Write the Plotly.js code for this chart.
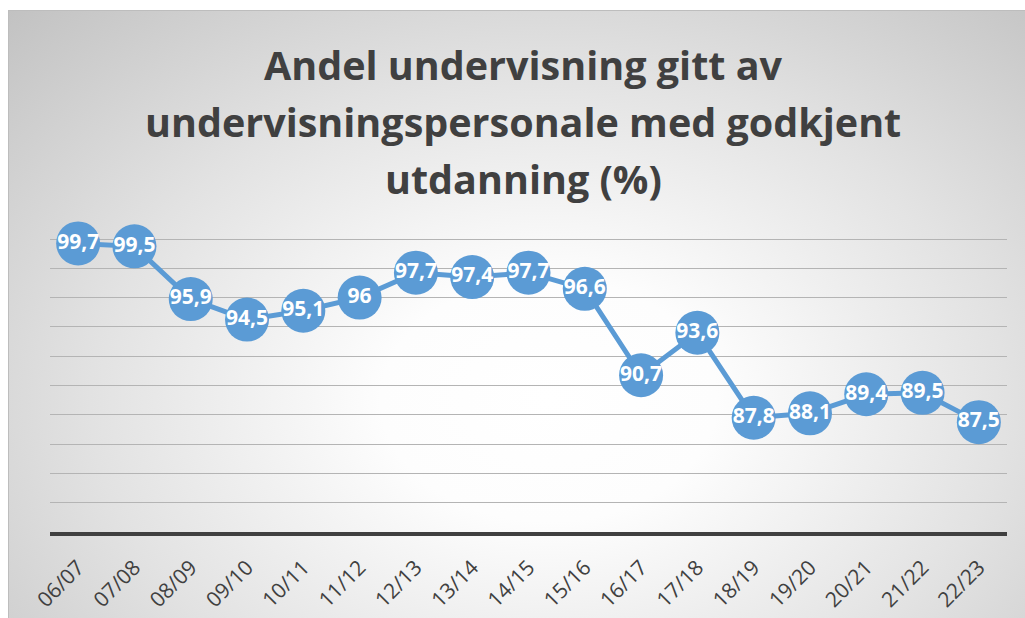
<!DOCTYPE html>
<html>
<head>
<meta charset="utf-8">
<script src="https://cdn.plot.ly/plotly-3.0.1.min.js"></script>
<style>
  html, body { margin: 0; padding: 0; background: #ffffff; width: 1025px; height: 618px; overflow: hidden; }
  #bg { position: absolute; left: 8px; top: 10px; width: 1040px; height: 630px; box-sizing: border-box;
        border: 1px solid #bdbdbd;
        background: radial-gradient(ellipse farthest-corner at 52% 62%, #ffffff 0%, #fdfdfd 22%, #e2e2e2 60%, #c2c2c2 100%); }
  #chart { position: absolute; left: 0; top: 0; width: 1025px; height: 618px; }
</style>
</head>
<body>
<div id="bg"></div>
<div id="chart"></div>
<script>
const categories = ["06/07","07/08","08/09","09/10","10/11","11/12","12/13","13/14","14/15","15/16","16/17","17/18","18/19","19/20","20/21","21/22","22/23"];
const values = [99.7, 99.5, 95.9, 94.5, 95.1, 96, 97.7, 97.4, 97.7, 96.6, 90.7, 93.6, 87.8, 88.1, 89.4, 89.5, 87.5];
const valueLabels = values.map(v => String(v).replace('.', ','));
const titleLines = ["Andel undervisning gitt av", "undervisningspersonale med godkjent", "utdanning (%)"];

const yMin = 80, yGridTop = 100;
const gridTopPx = 239, plotBottom = 532, plotTop = 224;
const pxPerUnit = (plotBottom - gridTopPx) / (yGridTop - yMin);
const yMax = yMin + (plotBottom - plotTop) / pxPerUnit;
const pxToPaperY = py => (plotBottom - py) / (plotBottom - plotTop);
const titleCenters = [65, 122, 179];

const trace = {
  type: 'scatter',
  mode: 'lines+markers+text',
  x: categories,
  y: values,
  text: valueLabels,
  textposition: 'middle center',
  textfont: { family: 'Open Sans, sans-serif', size: 21, color: '#ffffff', weight: 'bold' },
  line: { color: '#5B9BD5', width: 5 },
  marker: { color: '#5B9BD5', size: 44, line: { width: 0 } },
  cliponaxis: false,
  hoverinfo: 'skip'
};

const layout = {
  width: 1025,
  height: 618,
  paper_bgcolor: 'rgba(0,0,0,0)',
  plot_bgcolor: 'rgba(0,0,0,0)',
  margin: { l: 50, r: 18, t: plotTop, b: 618 - plotBottom, pad: 0 },
  showlegend: false,
  font: { family: 'Open Sans, sans-serif', color: '#404040' },
  xaxis: {
    type: 'category',
    range: [-0.5, categories.length - 0.5],
    tickangle: -45,
    ticks: '',
    showgrid: false,
    zeroline: false,
    showline: true,
    linecolor: '#404040',
    linewidth: 4,
    tickfont: { family: 'Open Sans, sans-serif', size: 21, color: '#404040' },
    ticklabelstandoff: 11,
    fixedrange: true
  },
  yaxis: {
    range: [yMin, yMax],
    dtick: 2,
    tick0: 80,
    showticklabels: false,
    ticks: '',
    showgrid: true,
    gridcolor: '#b4b4b4',
    gridwidth: 1,
    zeroline: false,
    showline: false,
    fixedrange: true
  },
  annotations: titleLines.map((t, i) => ({
    text: t,
    xref: 'paper', yref: 'paper',
    x: (523 - 50) / (1025 - 50 - 18),
    y: pxToPaperY(titleCenters[i]),
    xanchor: 'center', yanchor: 'middle',
    showarrow: false,
    font: { family: 'Open Sans, sans-serif', size: 39.5, color: '#404040', weight: 'bold' }
  }))
};

Plotly.newPlot('chart', [trace], layout, { displayModeBar: false, staticPlot: true });
</script>
</body>
</html>
